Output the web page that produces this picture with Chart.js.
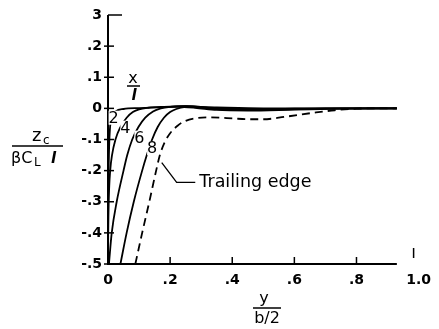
<!DOCTYPE html>
<html lang="en">
<head>
  <meta charset="UTF-8" />
  <title>Camber distribution</title>
  <script src="https://cdn.jsdelivr.net/npm/chart.js"></script>
  <style>
    html, body { margin: 0; padding: 0; background: #fff; }
    #box { width: 439px; height: 329px; position: relative; }
  </style>
</head>
<body>
  <div id="box"><canvas id="camber"></canvas></div>

  <script>
    // tick values and the labels printed on them
    const xTickValues = [0, 0.2, 0.4, 0.6, 0.8, 1.0];
    const xTickLabels = ['0', '.2', '.4', '.6', '.8', '1.0'];
    const yTickValues = [0.3, 0.2, 0.1, 0, -0.1, -0.2, -0.3, -0.4, -0.5];
    const yTickLabels = ['3', '.2', '.1', '0', '-.1', '-.2', '-.3', '-.4', '-.5'];

    // curve names (x/l stations) and the trailing edge
    const curveNames = ['.2', '.4', '.6', '.8', 'Trailing edge'];

    // y/(b/2) and z_c/(beta C_L l)
    const span02 = [0, 0.001, 0.003, 0.006, 0.012, 0.025, 0.05, 0.1, 0.18, 0.25, 0.35, 0.5, 0.7, 0.93];
    const camber02 = [-0.6, -0.3, -0.15, -0.07, -0.03, -0.01, -0.002, 0.001, 0.004, 0.006, 0.003, 0, 0, 0];

    const span04 = [0, 0.001, 0.004, 0.007, 0.013, 0.024, 0.04, 0.06, 0.08, 0.1, 0.13, 0.18, 0.25, 0.35, 0.5, 0.7, 0.93];
    const camber04 = [-0.45, -0.35, -0.25, -0.2, -0.15, -0.1, -0.06, -0.03, -0.012, -0.003, 0.002, 0.005, 0.007, 0.001, -0.002, 0, 0];

    const span06 = [0.003, 0.012, 0.028, 0.05, 0.062, 0.078, 0.098, 0.12, 0.145, 0.17, 0.2, 0.25, 0.35, 0.5, 0.7, 0.93];
    const camber06 = [-0.5, -0.4, -0.3, -0.2, -0.15, -0.1, -0.06, -0.03, -0.01, 0, 0.005, 0.007, -0.002, -0.004, -0.001, 0];

    const span08 = [0.04, 0.06, 0.083, 0.11, 0.125, 0.142, 0.16, 0.18, 0.2, 0.22, 0.245, 0.28, 0.35, 0.45, 0.6, 0.75, 0.93];
    const camber08 = [-0.5, -0.4, -0.3, -0.2, -0.15, -0.1, -0.06, -0.03, -0.012, -0.002, 0.004, 0.002, -0.005, -0.007, -0.004, -0.001, 0];

    const spanTE = [0.088, 0.11, 0.133, 0.155, 0.167, 0.182, 0.2, 0.225, 0.25, 0.28, 0.33, 0.4, 0.45, 0.5, 0.57, 0.67, 0.73, 0.8, 0.86, 0.93];
    const camberTE = [-0.5, -0.4, -0.3, -0.2, -0.15, -0.11, -0.08, -0.055, -0.04, -0.032, -0.029, -0.032, -0.035, -0.035, -0.027, -0.013, -0.006, -0.001, 0, 0];

    function pts(xs, ys) {
      return xs.map((v, i) => ({ x: v, y: ys[i] }));
    }

    const FONT = '"DejaVu Sans", sans-serif';

    // axes, fractions and curve labels, drawn on top of the scales
    const annotations = {
      id: 'annotations',
      afterDraw(chart) {
        const ctx = chart.ctx;
        const xs = chart.scales.x, ys = chart.scales.y;
        const px = v => xs.getPixelForValue(v);
        const py = v => ys.getPixelForValue(v);
        ctx.save();
        ctx.strokeStyle = '#000';
        ctx.fillStyle = '#000';
        ctx.lineCap = 'butt';

        // axis lines
        ctx.lineWidth = 2;
        ctx.beginPath();
        ctx.moveTo(px(0), py(0.3));
        ctx.lineTo(px(0), py(-0.5));
        ctx.lineTo(px(0.93), py(-0.5));
        ctx.stroke();

        // y ticks
        ctx.lineWidth = 1.5;
        yTickValues.forEach((v, i) => {
          ctx.beginPath();
          if (i === 0) {
            ctx.moveTo(px(0), py(v)); ctx.lineTo(px(0) + 14, py(v));
          } else {
            ctx.moveTo(px(0) - 4, py(v)); ctx.lineTo(px(0) + 6, py(v));
          }
          ctx.stroke();
        });
        // x ticks
        xTickValues.forEach((v, i) => {
          if (i === 0) return;
          ctx.beginPath();
          if (v === 1.0) {
            ctx.moveTo(px(v) - 5, py(-0.5) - 16); ctx.lineTo(px(v) - 5, py(-0.5) - 6);
          } else {
            ctx.moveTo(px(v), py(-0.5)); ctx.lineTo(px(v), py(-0.5) - 7);
          }
          ctx.stroke();
        });

        ctx.textBaseline = 'alphabetic';
        ctx.textAlign = 'left';

        // y-axis title z_c / (beta C_L l)
        ctx.font = '18px ' + FONT;
        ctx.fillText('z', 32, 141);
        ctx.font = '12px ' + FONT;
        ctx.fillText('c', 43, 144);
        ctx.lineWidth = 1.5;
        ctx.beginPath(); ctx.moveTo(12, 146); ctx.lineTo(63, 146); ctx.stroke();
        ctx.font = '16px ' + FONT;
        ctx.fillText('\u03B2C', 11, 163);
        ctx.font = '12px ' + FONT;
        ctx.fillText('L', 34, 166);
        ctx.font = 'italic bold 15px ' + FONT;
        ctx.fillText('l', 51, 163);

        // x-axis title y / (b/2)
        ctx.textAlign = 'center';
        ctx.font = '16px ' + FONT;
        ctx.fillText('y', 264, 303);
        ctx.beginPath(); ctx.moveTo(253, 308); ctx.lineTo(281, 308); ctx.stroke();
        ctx.fillText('b/2', 267, 323);

        // x/l key above the curves
        ctx.fillText('x', 133, 83);
        ctx.beginPath(); ctx.moveTo(127, 86); ctx.lineTo(140, 86); ctx.stroke();
        ctx.font = 'italic bold 15px ' + FONT;
        ctx.fillText('l', 134, 100);

        // curve labels at their stations
        const spots = [[0.018, -0.03], [0.056, -0.062], [0.101, -0.094], [0.142, -0.128]];
        ctx.font = '16px ' + FONT;
        ctx.textBaseline = 'middle';
        spots.forEach((s, i) => {
          const cx = px(s[0]), cy = py(s[1]);
          const txt = curveNames[i].replace('.', '');
          ctx.fillStyle = '#fff';
          ctx.fillRect(cx - 5, cy - 7, 10, 14);
          ctx.fillStyle = '#000';
          ctx.fillText(txt, cx, cy + 1);
        });

        // trailing edge callout
        ctx.lineWidth = 1.3;
        ctx.beginPath();
        ctx.moveTo(px(0.173), py(-0.174));
        ctx.lineTo(px(0.221), py(-0.238));
        ctx.lineTo(px(0.281), py(-0.238));
        ctx.stroke();
        ctx.textAlign = 'left';
        ctx.font = '17.5px ' + FONT;
        ctx.fillText(curveNames[4], px(0.294), py(-0.238));
        ctx.restore();
      }
    };

    const solid = { borderColor: '#000', borderWidth: 1.8, pointRadius: 0, showLine: true, cubicInterpolationMode: 'monotone', fill: false };

    new Chart(document.getElementById('camber'), {
      type: 'scatter',
      data: {
        datasets: [
          { ...solid, label: curveNames[0], data: pts(span02, camber02) },
          { ...solid, label: curveNames[1], data: pts(span04, camber04) },
          { ...solid, label: curveNames[2], data: pts(span06, camber06) },
          { ...solid, label: curveNames[3], data: pts(span08, camber08) },
          { ...solid, label: curveNames[4], data: pts(spanTE, camberTE), borderDash: [8, 5] }
        ]
      },
      options: {
        responsive: true,
        maintainAspectRatio: false,
        animation: false,
        layout: { padding: { top: 15, right: 14, left: 0, bottom: 0 } },
        plugins: { legend: { display: false }, tooltip: { enabled: false } },
        scales: {
          x: {
            type: 'linear', min: 0, max: 1,
            grid: { display: false, drawTicks: false },
            border: { display: false },
            afterFit: s => { s.height = 65; },
            afterBuildTicks: s => { s.ticks = xTickValues.map(v => ({ value: v })); },
            ticks: {
              padding: 8, color: '#000', maxRotation: 0, autoSkip: false,
              font: { family: FONT, size: 14, weight: 'bold' },
              callback: (v, i) => xTickLabels[i]
            }
          },
          y: {
            type: 'linear', min: -0.5, max: 0.3,
            grid: { display: false, drawTicks: false },
            border: { display: false },
            afterFit: s => { s.width = 108; },
            afterBuildTicks: s => { s.ticks = yTickValues.map(v => ({ value: v })); },
            ticks: {
              padding: 6, color: '#000', autoSkip: false,
              font: { family: FONT, size: 14, weight: 'bold' },
              callback: (v, i) => yTickLabels[i]
            }
          }
        }
      },
      plugins: [annotations]
    });
  </script>
</body>
</html>
